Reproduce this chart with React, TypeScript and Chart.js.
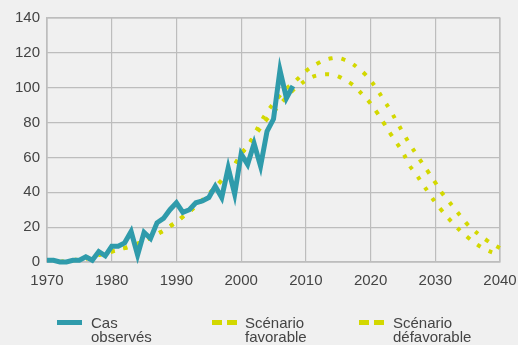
import React, { useEffect, useRef } from "react";
import { Chart, registerables } from "chart.js";

Chart.register(...registerables);

const observedStart = 1970;
const observed = [
  1, 1, 0, 0, 1, 1, 3, 1, 6, 3.5,
  9, 9, 11, 17.5, 4, 17, 13.5, 22.5, 25, 30,
  34, 28.5, 30, 34, 35, 37, 43.5, 37, 54, 39,
  62, 56, 68, 55, 75, 82, 110, 94, 101,
];

const scenarioStart = 1972;
const favorable = [
  0, 0.5, 1, 1.5, 2, 3, 4, 5,
  6, 7, 8, 9, 10.5, 12, 14, 16, 18, 20.5,
  23, 26, 29, 32, 35.5, 39, 43, 47, 51.5, 56,
  62, 66.5, 72, 77, 82, 86, 90.5, 94.5, 98.5, 101.5,
  104.2, 106.2, 107.3, 107.7, 107.5, 106.5, 104.5, 102.3, 99, 95,
  90.9, 85.7, 80, 74, 68.5, 62.8, 55.5, 50.5, 45, 39.6,
  34.2, 29.5, 25.2, 21.3, 17.4, 14.2, 11.2, 8.8, 6.8, 5.3,
  4.2,
];
const defavorable = [
  0, 0.5, 1, 1.5, 2, 3, 4, 5,
  6, 7, 8, 9, 10.5, 12, 14, 16, 18, 20.5,
  23, 26, 29, 32, 35.5, 39, 43, 47, 51.5, 56,
  62, 66.5, 73, 80, 86, 91, 95.5, 99.5, 102.6, 106,
  109.5, 112.2, 114.3, 116, 116.9, 117.1, 116, 114.2, 111.5, 108.3,
  104.2, 99, 93.2, 87.4, 80.8, 74.3, 68, 62.2, 56.6, 51.2,
  45.6, 39.8, 35.2, 30.5, 26, 21.5, 18.1, 15, 12.3, 10,
  8,
];

const seriesNames = ["Cas observés", "Scénario favorable", "Scénario défavorable"];
const legendLines = [["Cas", "observés"], ["Scénario", "favorable"], ["Scénario", "défavorable"]];

const TEAL = "#2f9bab";
const YELLOW = "#d3d800";
const BG = "#f0f0f0";
const GRID = "#bdbdbd";
const TEXT = "#444444";
const FONT = "'Liberation Sans', Arial, Helvetica, sans-serif";

function toPoints(start: number, vals: number[]) {
  return vals.map((v, i) => ({ x: start + i, y: v }));
}

export default function App() {
  const ref = useRef<HTMLCanvasElement | null>(null);

  useEffect(() => {
    document.body.style.margin = "0";
    document.body.style.background = BG;
    const canvas = ref.current;
    if (!canvas) return;
    const chart = new Chart(canvas, {
      type: "line",
      data: {
        datasets: [
          {
            label: seriesNames[0],
            data: toPoints(observedStart, observed),
            borderColor: TEAL,
            borderWidth: 5,
            pointRadius: 0,
            tension: 0,
            borderJoinStyle: "miter",
            clip: false,
            order: 0,
          },
          {
            label: seriesNames[1],
            data: toPoints(scenarioStart, favorable),
            borderColor: YELLOW,
            borderWidth: 4,
            borderDash: [4, 9],
            pointRadius: 0,
            tension: 0.4,
            clip: false,
            order: 1,
          },
          {
            label: seriesNames[2],
            data: toPoints(scenarioStart, defavorable),
            borderColor: YELLOW,
            borderWidth: 4,
            borderDash: [4, 9],
            pointRadius: 0,
            tension: 0.4,
            clip: false,
            order: 2,
          },
        ],
      },
      options: {
        responsive: false,
        animation: false,
        layout: { padding: { left: 0, right: 0, top: 18, bottom: 0 } },
        plugins: { legend: { display: false }, tooltip: { enabled: false } },
        scales: {
          x: {
            type: "linear",
            min: 1970,
            max: 2040,
            ticks: {
              stepSize: 10,
              color: TEXT,
              font: { family: FONT, size: 15 },
              padding: 10,
              maxRotation: 0,
              callback: (v: any) => String(v),
            },
            grid: { color: GRID, lineWidth: 1.2, drawTicks: false },
            border: { color: GRID, width: 1.2 },
            afterFit: (s: any) => {
              s.height = 83;
              s.paddingLeft = 0;
              s.paddingRight = 18;
            },
          },
          y: {
            min: 0,
            max: 140,
            ticks: {
              stepSize: 20,
              color: TEXT,
              font: { family: FONT, size: 15 },
              padding: 7,
            },
            grid: { color: GRID, lineWidth: 1.2, drawTicks: false },
            border: { color: GRID, width: 1.2 },
            afterFit: (s: any) => {
              s.width = 47;
              s.paddingTop = 0;
              s.paddingBottom = 0;
            },
          },
        },
      },
      plugins: [
        {
          id: "frame",
          beforeDatasetsDraw: (c: any) => {
            const { ctx, chartArea } = c;
            ctx.save();
            ctx.strokeStyle = GRID;
            ctx.lineWidth = 1.2;
            ctx.strokeRect(chartArea.left, chartArea.top, chartArea.right - chartArea.left, chartArea.bottom - chartArea.top);
            ctx.restore();
          },
        },
      ],
    } as any);
    return () => chart.destroy();
  }, []);

  const textStyle: React.CSSProperties = {
    position: "absolute",
    top: 316,
    fontFamily: FONT,
    fontSize: 15,
    lineHeight: "14px",
    color: TEXT,
    whiteSpace: "nowrap",
  };

  const solidSwatch = (left: number) => (
    <div style={{ position: "absolute", left, top: 320, width: 25, height: 5, background: TEAL }} />
  );
  const dashSwatch = (left: number) => (
    <>
      <div style={{ position: "absolute", left, top: 320, width: 10, height: 5, background: YELLOW }} />
      <div style={{ position: "absolute", left: left + 15, top: 320, width: 10, height: 5, background: YELLOW }} />
    </>
  );

  return (
    <div style={{ position: "relative", width: 518, height: 345, background: BG, overflow: "hidden" }}>
      <canvas ref={ref} width={518} height={345} style={{ position: "absolute", left: 0, top: 0 }} />
      {solidSwatch(57)}
      <div style={{ ...textStyle, left: 91 }}>
        {legendLines[0][0]}
        <br />
        {legendLines[0][1]}
      </div>
      {dashSwatch(212)}
      <div style={{ ...textStyle, left: 245 }}>
        {legendLines[1][0]}
        <br />
        {legendLines[1][1]}
      </div>
      {dashSwatch(359)}
      <div style={{ ...textStyle, left: 393 }}>
        {legendLines[2][0]}
        <br />
        {legendLines[2][1]}
      </div>
    </div>
  );
}
